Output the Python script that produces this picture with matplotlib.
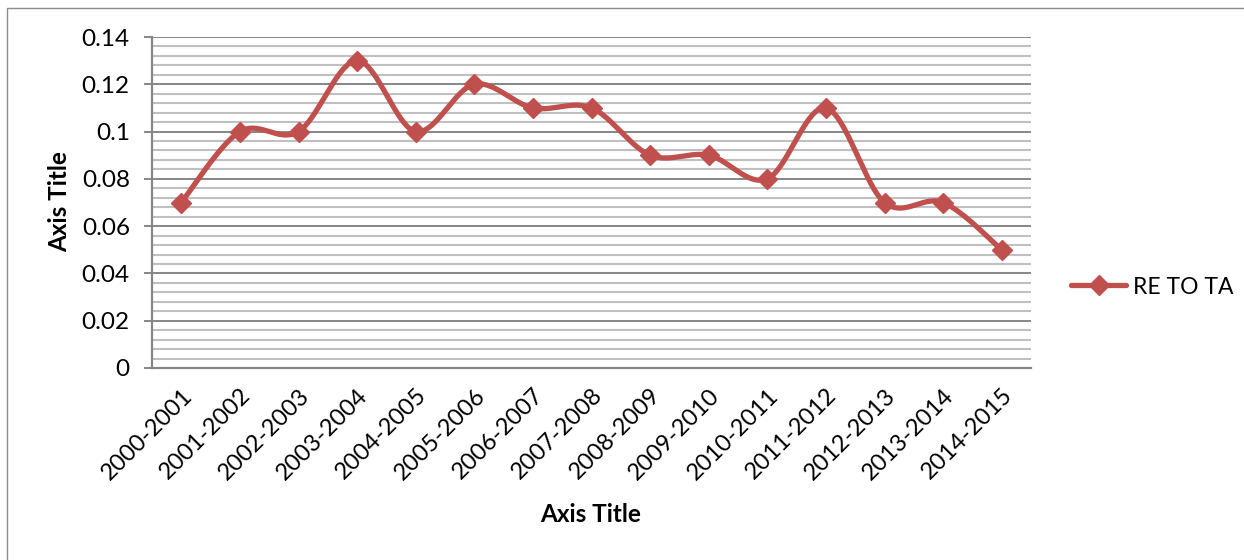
import matplotlib.pyplot as plt
import numpy as np
from matplotlib.lines import Line2D
from matplotlib.patches import Rectangle
from matplotlib.ticker import MultipleLocator

plt.rcParams['font.family'] = ['Lato', 'DejaVu Sans']

years = ['2000-2001', '2001-2002', '2002-2003', '2003-2004', '2004-2005',
         '2005-2006', '2006-2007', '2007-2008', '2008-2009', '2009-2010',
         '2010-2011', '2011-2012', '2012-2013', '2013-2014', '2014-2015']
re_to_ta = [0.07, 0.10, 0.10, 0.13, 0.10, 0.12, 0.11, 0.11,
            0.09, 0.09, 0.08, 0.11, 0.07, 0.07, 0.05]
y_ticks = [0, 0.02, 0.04, 0.06, 0.08, 0.10, 0.12, 0.14]
y_labels = ['0', '0.02', '0.04', '0.06', '0.08', '0.1', '0.12', '0.14']

RED = '#C0504D'


def smooth_curve(xs, ys, steps=40):
    # cubic bezier through each pair, Catmull-Rom style control points
    xs = np.asarray(xs, float)
    ys = np.asarray(ys, float)
    n = len(xs)
    out_x, out_y = [], []
    t = np.linspace(0, 1, steps)
    for i in range(n - 1):
        p0 = np.array([xs[i], ys[i]])
        p3 = np.array([xs[i + 1], ys[i + 1]])
        prev = np.array([xs[i - 1], ys[i - 1]]) if i > 0 else p0
        nxt = np.array([xs[i + 2], ys[i + 2]]) if i + 2 < n else p3
        p1 = p0 + (p3 - prev) / 6
        p2 = p3 - (nxt - p0) / 6
        pts = ((1 - t) ** 3)[:, None] * p0 + (3 * (1 - t) ** 2 * t)[:, None] * p1 \
            + (3 * (1 - t) * t ** 2)[:, None] * p2 + (t ** 3)[:, None] * p3
        out_x.extend(pts[:, 0])
        out_y.extend(pts[:, 1])
    return out_x, out_y


fig = plt.figure(figsize=(12.44, 5.6), dpi=100)
ax = fig.add_axes([152 / 1244, 1 - 368 / 560, (1031 - 152) / 1244, (368 - 37) / 560])

# outer chart border
fig.add_artist(Rectangle((7 / 1244, -0.1), 1.2, 1 - 8 / 560 + 0.1,
                         transform=fig.transFigure, fill=False,
                         edgecolor='#8C8C8C', linewidth=1.0))

x = np.arange(len(years))
sx, sy = smooth_curve(x, re_to_ta)
ax.plot(sx, sy, color=RED, linewidth=3.8, solid_capstyle='round', zorder=3)
ax.plot(x, re_to_ta, linestyle='none', marker='D', markersize=10,
        color=RED, zorder=4)

ax.set_xlim(-0.5, len(years) - 0.5)
ax.set_ylim(0, 0.14)
ax.set_yticks(y_ticks)
ax.set_yticklabels(y_labels)
ax.yaxis.set_minor_locator(MultipleLocator(0.004))
ax.grid(which='major', axis='y', color='#868686', linewidth=1.4)
ax.grid(which='minor', axis='y', color='#C0C0C0', linewidth=1.5)
ax.set_axisbelow(True)

ax.set_xticks(x)
ax.set_xticklabels(years, rotation=45, ha='right', rotation_mode='anchor',
                   fontsize=17)
ax.tick_params(axis='x', length=0, pad=12)
ax.tick_params(axis='y', which='major', length=6, width=1.4, color='#868686',
               labelsize=17.5, pad=10)
ax.tick_params(axis='y', which='minor', length=0)

for side in ['top', 'right']:
    ax.spines[side].set_visible(False)
ax.spines['left'].set_color('#868686')
ax.spines['left'].set_linewidth(1.6)
ax.spines['bottom'].set_color('#868686')
ax.spines['bottom'].set_linewidth(1.6)

fig.text(60 / 1244, 1 - 202 / 560, 'Axis Title', fontsize=17.5,
         fontweight='bold', ha='center', va='center', rotation=90)
fig.text(591 / 1244, 1 - 515 / 560, 'Axis Title', fontsize=17.5,
         fontweight='bold', ha='center', va='center')

handle = Line2D([], [], color=RED, linewidth=3.8, marker='D', markersize=10,
                solid_capstyle='round')
fig.legend([handle], ['RE TO TA'], loc='center left',
           bbox_to_anchor=(1060 / 1244, 1 - 287 / 560), frameon=False,
           fontsize=16.5, handlelength=2.4, handletextpad=0.3, borderpad=0)

fig.savefig('out.png', dpi=100)
